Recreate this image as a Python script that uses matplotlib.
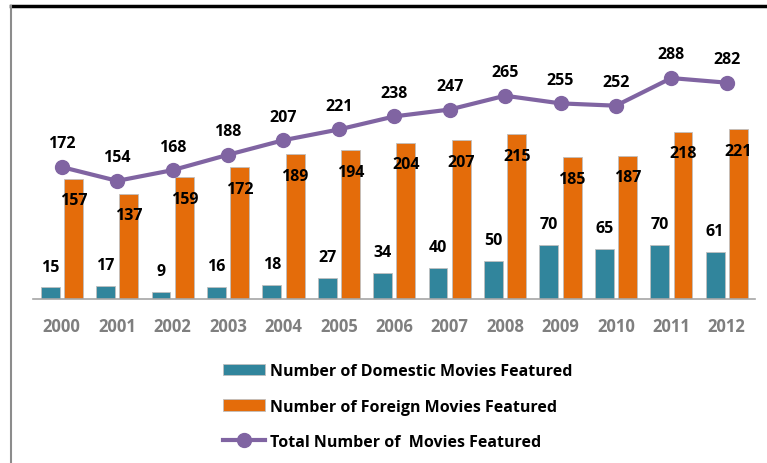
import matplotlib.pyplot as plt
import numpy as np
from matplotlib.lines import Line2D

years = ['2000', '2001', '2002', '2003', '2004', '2005', '2006',
         '2007', '2008', '2009', '2010', '2011', '2012']
domestic = [15, 17, 9, 16, 18, 27, 34, 40, 50, 70, 65, 70, 61]
foreign = [157, 137, 159, 172, 189, 194, 204, 207, 215, 185, 187, 218, 221]
total = [172, 154, 168, 188, 207, 221, 238, 247, 265, 255, 252, 288, 282]

plt.rcParams['font.family'] = ['Open Sans', 'DejaVu Sans']
plt.rcParams['font.weight'] = 'bold'

W, H = 767, 464
fig = plt.figure(figsize=(W / 100, H / 100), dpi=100)
ax = fig.add_axes([33 / W, (H - 300) / H, (755 - 33) / W, 280 / H])

x = np.arange(len(years))
bw = 0.34
off = 0.21
b1 = ax.bar(x - off, domestic, bw, color='#31859C', edgecolor='#BFBFBF',
            linewidth=0.6, label='Number of Domestic Movies Featured')
b2 = ax.bar(x + off, foreign, bw, color='#E46C0A', edgecolor='#BFBFBF',
            linewidth=0.6, label='Number of Foreign Movies Featured')
ln, = ax.plot(x, total, color='#8064A2', lw=3, marker='o', ms=10,
              label='Total Number of  Movies Featured')

fs = 11.5
for xi, v in zip(x, domestic):
    ax.annotate(str(v), (xi - off, v), xytext=(0, 15), textcoords='offset points',
                ha='center', va='center', fontsize=fs, fontweight='bold')
for xi, v in zip(x, foreign):
    ax.annotate(str(v), (xi + off, v), xytext=(0, -15.5), textcoords='offset points',
                ha='center', va='center', fontsize=fs, fontweight='bold')
for xi, v in zip(x, total):
    ax.annotate(str(v), (xi, v), xytext=(0, 17), textcoords='offset points',
                ha='center', va='center', fontsize=fs, fontweight='bold')

ax.set_xlim(-0.52, 12.51)
ax.set_ylim(0, 365)
ax.set_xticks(x)
ax.set_xticklabels(years, color='#7F7F7F', fontsize=12, fontweight='bold')
ax.tick_params(axis='x', length=0, pad=13)
ax.set_yticks([])
for s in ['top', 'right', 'left']:
    ax.spines[s].set_visible(False)
ax.spines['bottom'].set_color('#A6A6A6')
ax.spines['bottom'].set_linewidth(1.2)

fig.legend(handles=[b1, b2, ln], loc='upper left', bbox_to_anchor=(209 / W, 1 - 350 / H),
           frameon=False, handlelength=2.6, labelspacing=1.2,
           handletextpad=0.35, prop={'weight': 'bold', 'size': 11.5})

# outer frame lines
fig.add_artist(Line2D([11 / W, 1], [1 - 7 / H, 1 - 7 / H], color='black', lw=2.5,
                      transform=fig.transFigure))
fig.add_artist(Line2D([11 / W, 11 / W], [0, 1 - 7 / H], color='#8C8C8C', lw=1.5,
                      transform=fig.transFigure))

plt.savefig('out.png', dpi=100)
